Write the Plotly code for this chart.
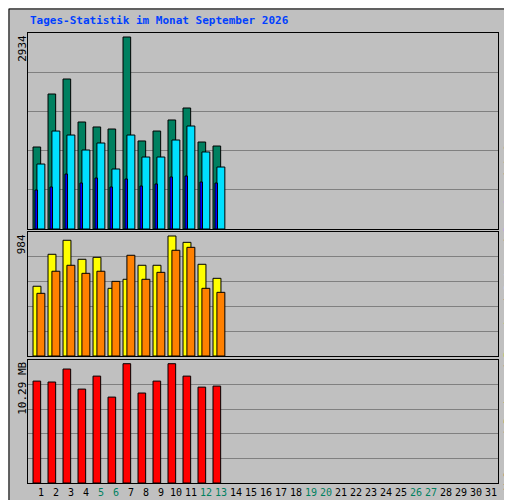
import plotly.graph_objects as go

days = list(range(1, 14))
anfragen = [1253, 2063, 2292, 1635, 1559, 1528, 2934, 1345, 1497, 1666, 1849, 1329, 1268]
dateien = [993, 1497, 1436, 1207, 1314, 917, 1436, 1100, 1100, 1360, 1574, 1177, 947]
seiten = [596, 642, 840, 703, 779, 642, 764, 657, 688, 795, 810, 718, 703]
besuche = [572, 834, 949, 793, 809, 555, 629, 744, 744, 984, 932, 752, 637]
rechner = [514, 695, 744, 678, 695, 612, 826, 629, 686, 867, 891, 555, 522]
volumen = [8.79, 8.71, 9.83, 8.10, 9.22, 7.41, 10.29, 7.76, 8.79, 10.29, 9.22, 8.27, 8.36]
tick_days = list(range(1, 32))
weekend = {5, 6, 12, 13, 19, 20, 26, 27}

fig = go.Figure()
def bar(y, color, offset, width, ax):
    fig.add_trace(go.Bar(x=days, y=y, marker=dict(color=color, line=dict(color="black", width=1)),
                         offset=offset, width=width, xaxis="x" + ax, yaxis="y" + ax))

bar(anfragen, "#008060", -0.53, 0.51, "")
bar(dateien, "#00e0ff", -0.27, 0.53, "")
bar(seiten, "#0000ff", -0.40, 0.17, "")
bar(besuche, "#ffff00", -0.53, 0.53, "2")
bar(rechner, "#ff8000", -0.27, 0.53, "2")
bar(volumen, "#ff0000", -0.53, 0.51, "3")

xr = [0.133, 31.47]
common_x = dict(range=xr, showgrid=False, showline=True, linecolor="black", mirror=True,
                domain=[0.039, 0.957], zeroline=False, automargin=False)
ticktext = [f"<span style='color:{'#008060' if d in weekend else 'black'}'>{d}</span>" for d in tick_days]
tops = [max(anfragen) * 196 / 192, max(besuche) * 124 / 120, max(volumen) * 122.7 / 119]
doms = [[0.558, 0.95], [0.304, 0.552], [0.05, 0.296]]
lay = {}
for i, (t, d) in enumerate(zip(tops, doms)):
    s = "" if i == 0 else str(i + 1)
    xa = dict(common_x, anchor="y" + s)
    if i == 2:
        xa.update(tickvals=tick_days, ticktext=ticktext, ticks="", tickangle=0,
                  tickfont=dict(family="DejaVu Sans Mono", size=10, color="black"))
    else:
        xa.update(showticklabels=False)
    if i > 0:
        xa["matches"] = "x"
    lay["xaxis" + s] = xa
    lay["yaxis" + s] = dict(range=[0, t], domain=d, anchor="x" + s, dtick=t / 5, showgrid=True,
                            gridcolor="#808080", gridwidth=1, showticklabels=False, automargin=False,
                            showline=True, linecolor="black", mirror=True, zeroline=False)
fig.update_layout(**lay)

f = dict(family="DejaVu Sans Mono", size=11, color="black")
anns = [
    dict(text="<b>Tages-Statistik im Monat September 2026</b>", x=0.039, y=0.976, xref="paper", yref="paper",
         showarrow=False, xanchor="left", yanchor="middle",
         font=dict(family="DejaVu Sans Mono", size=11, color="#0040ff")),
]
for txt, d in [("2934", doms[0]), ("984", doms[1]), ("10.29 MB", doms[2])]:
    anns.append(dict(text=txt, textangle=-90, x=0.028, y=d[1], xref="paper", yref="paper",
                     xanchor="center", yanchor="top", showarrow=False, font=f))
legend = ("<span style='color:#ff0000'>Volumen</span> / <span style='color:#ff8000'>Rechner</span> / "
          "<span style='color:#e0e000'>Besuche</span> / <span style='color:#00e0ff'>Seiten</span> / "
          "<span style='color:#0000ff'>Dateien</span> / <span style='color:#008060'>Anfragen</span>")
anns.append(dict(text=legend, textangle=-90, x=0.977, y=0.032, xref="paper", yref="paper",
                 xanchor="center", yanchor="bottom", showarrow=False, font=f))
fig.update_layout(
    width=512, height=500, autosize=False, margin=dict(l=0, r=0, t=0, b=0, autoexpand=False),
    paper_bgcolor="#c0c0c0", plot_bgcolor="#c0c0c0", showlegend=False, barmode="overlay",
    annotations=anns,
    shapes=[dict(type="rect", xref="paper", yref="paper", x0=0.002, y0=0.002, x1=0.998, y1=0.998,
                 line=dict(color="black", width=1))],
)
fig.write_html("out.html")
